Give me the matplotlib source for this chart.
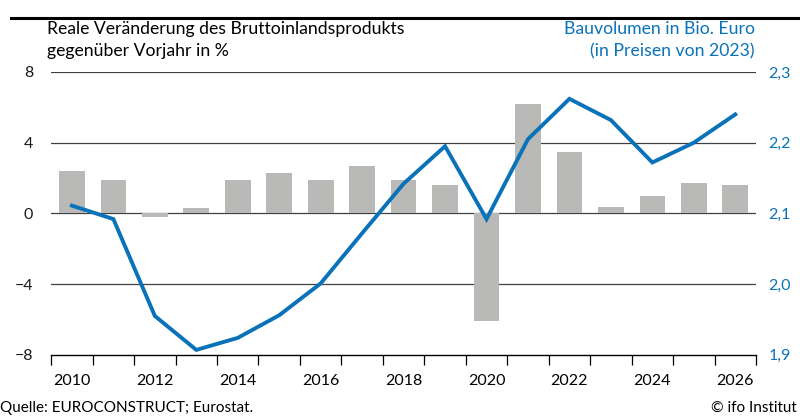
import numpy as np
import matplotlib.pyplot as plt
from matplotlib.lines import Line2D

plt.rcParams['font.family'] = ['Lato', 'DejaVu Sans']

years = list(range(2010, 2027))
bip = [2.4, 1.9, -0.2, 0.3, 1.9, 2.3, 1.9, 2.7, 1.9, 1.6, -6.1, 6.2, 3.5, 0.35, 1.0, 1.7, 1.6]
bauvolumen = [2.111, 2.092, 1.955, 1.907, 1.924, 1.956, 2.001, 2.072, 2.142, 2.195,
              2.092, 2.205, 2.262, 2.232, 2.172, 2.200, 2.240]
year_labels = [str(y) for y in years if y % 2 == 0]

blue = '#0A72B8'
grey = '#B9B9B7'

fig = plt.figure(figsize=(8, 4.16), dpi=100)
ax = fig.add_axes([0.064, 0.147, 0.881, 0.68])
ax2 = ax.twinx()

x = np.arange(len(years))
ax.bar(x, bip, width=0.62, color=grey, zorder=2)
ax.set_ylim(-8, 8)
ax.set_xlim(-0.5, len(years) - 0.5)
ax.set_yticks([-8, -4, 0, 4, 8])
ax.set_yticklabels(['\u22128', '\u22124', '0', '4', '8'])
for v in [-4, 0, 4, 8]:
    ax.axhline(v, color='#404040', lw=0.9, zorder=1)

ax2.plot(x, bauvolumen, color=blue, lw=2.8, zorder=3, solid_joinstyle='miter')
ax2.set_ylim(1.9, 2.3)
ax2.set_yticks([1.9, 2.0, 2.1, 2.2, 2.3])
ax2.set_yticklabels(['1,9', '2,0', '2,1', '2,2', '2,3'])

for a in (ax, ax2):
    for s in ['top', 'left', 'right']:
        a.spines[s].set_visible(False)
ax.spines['bottom'].set_color('black')
ax.spines['bottom'].set_linewidth(1.0)
ax2.spines['bottom'].set_visible(False)

ax.tick_params(axis='y', length=0, pad=13, labelsize=11.5, labelcolor='#1a1a1a')
ax2.tick_params(axis='y', length=0, pad=9, labelsize=11.5, labelcolor=blue)

ax.set_xticks([i for i, y in enumerate(years) if y % 2 == 0])
ax.set_xticklabels(year_labels)
ax.set_xticks(np.arange(-0.5, len(years), 1.0), minor=True)
ax.tick_params(axis='x', which='major', length=0, pad=14, labelsize=11.5)
ax.tick_params(axis='x', which='minor', length=7, width=0.9, color='black')

fs = 12.7
fig.text(47 / 800, 1 - 29 / 416, 'Reale Veränderung des Bruttoinlandsprodukts',
         fontsize=fs, va='center', ha='left')
fig.text(47 / 800, 1 - 51 / 416, 'gegenüber Vorjahr in %',
         fontsize=fs, va='center', ha='left')
fig.text(755 / 800, 1 - 29 / 416, 'Bauvolumen in Bio. Euro',
         fontsize=fs, va='center', ha='right', color=blue)
fig.text(755 / 800, 1 - 51 / 416, '(in Preisen von 2023)',
         fontsize=fs, va='center', ha='right', color=blue)

fig.text(0.0, 1 - 408 / 416, 'Quelle: EUROCONSTRUCT; Eurostat.',
         fontsize=11, va='center', ha='left')
fig.text(797 / 800, 1 - 408 / 416, '\u00a9 ifo Institut',
         fontsize=11, va='center', ha='right')

fig.add_artist(Line2D([11 / 800, 1.0], [1 - 18 / 416, 1 - 18 / 416],
                      color='black', lw=2.2, transform=fig.transFigure))

fig.savefig('out.png', dpi=100)
